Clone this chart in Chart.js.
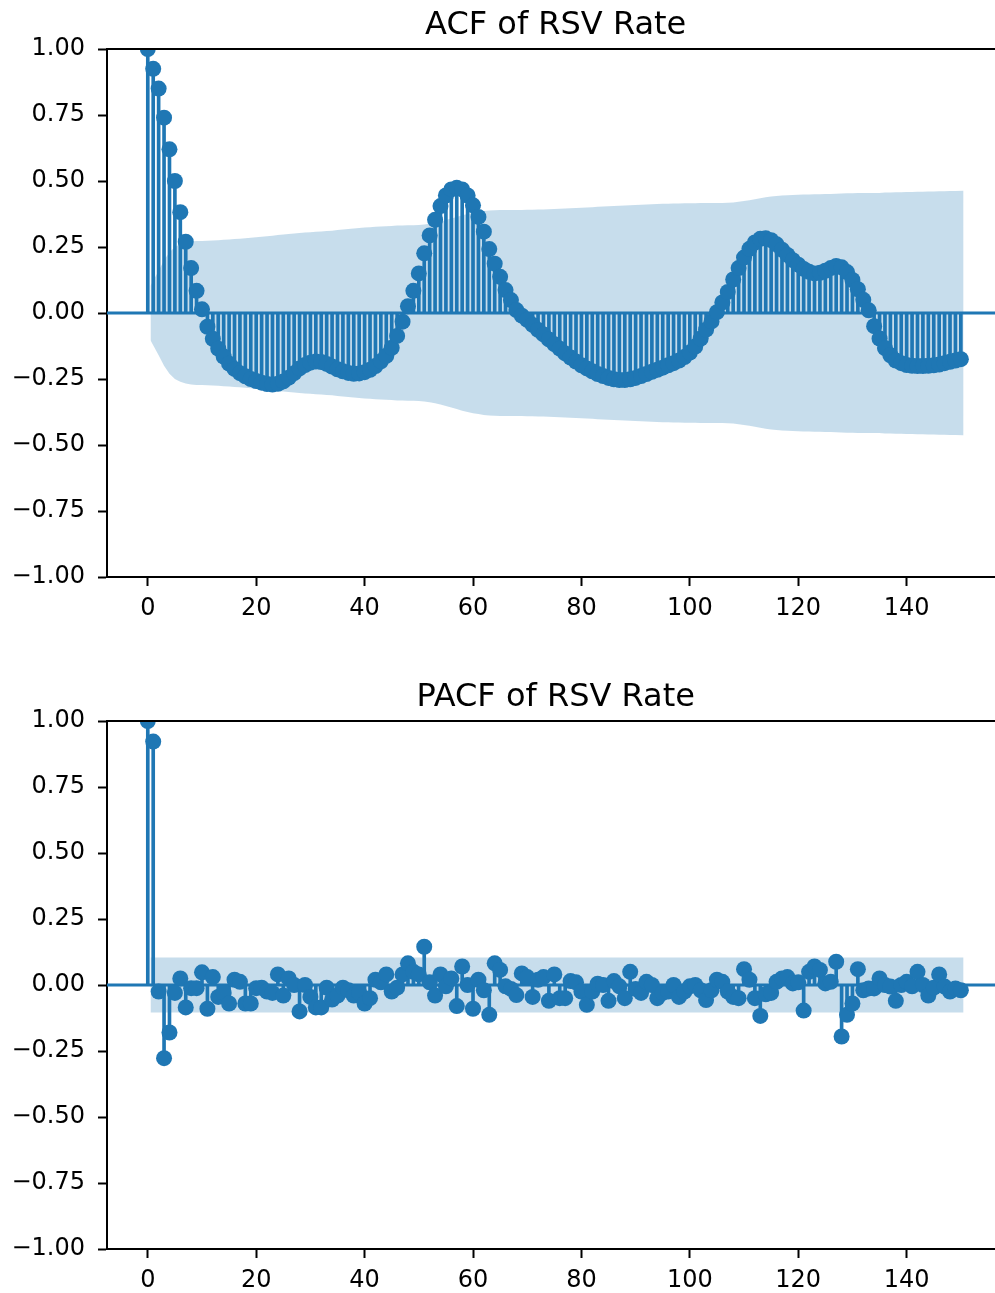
<!doctype html>
<html lang="en">

<head>
  <meta charset="utf-8">
  <title>ACF / PACF of RSV Rate</title>
  <style>
    * {
      margin: 0;
      padding: 0;
    }

    body {
      background: #fff;
      width: 995px;
    }

    canvas {
      display: block;
    }
  </style>
</head>

<body>
  <canvas id="acfChart" width="995" height="672"></canvas>
  <canvas id="pacfChart" width="995" height="621"></canvas>
  <script src="https://cdn.jsdelivr.net/npm/chart.js/dist/chart.umd.min.js"></script>
  <script>

    // autocorrelation, lags 0..150
    const acfValues = [
      1.000, 0.925, 0.850, 0.740, 0.620, 0.500, 0.382, 0.270, 0.170, 0.084,
      0.014, -0.052, -0.098, -0.135, -0.165, -0.192, -0.212, -0.228, -0.240, -0.250,
      -0.258, -0.264, -0.269, -0.271, -0.268, -0.259, -0.245, -0.228, -0.210, -0.197,
      -0.188, -0.184, -0.186, -0.193, -0.203, -0.213, -0.221, -0.227, -0.230, -0.229,
      -0.224, -0.215, -0.201, -0.183, -0.162, -0.132, -0.087, -0.033, 0.026, 0.084,
      0.150, 0.226, 0.294, 0.353, 0.405, 0.445, 0.468, 0.474, 0.468, 0.445,
      0.408, 0.364, 0.308, 0.242, 0.187, 0.137, 0.087, 0.049, 0.011, -0.010,
      -0.026, -0.045, -0.064, -0.081, -0.100, -0.118, -0.135, -0.153, -0.169, -0.184,
      -0.198, -0.210, -0.221, -0.231, -0.239, -0.246, -0.251, -0.254, -0.254, -0.251,
      -0.246, -0.239, -0.231, -0.223, -0.215, -0.207, -0.198, -0.190, -0.180, -0.167,
      -0.150, -0.127, -0.097, -0.063, -0.032, 0.003, 0.040, 0.080, 0.127, 0.170,
      0.210, 0.243, 0.267, 0.281, 0.283, 0.276, 0.260, 0.240, 0.220, 0.200,
      0.183, 0.167, 0.156, 0.150, 0.152, 0.160, 0.170, 0.178, 0.173, 0.155,
      0.125, 0.090, 0.050, 0.010, -0.050, -0.097, -0.133, -0.160, -0.180, -0.190,
      -0.197, -0.200, -0.201, -0.201, -0.200, -0.198, -0.195, -0.190, -0.185, -0.180,
      -0.175
    ];

    // half width of the ACF confidence band, lags 1..150
    const acfBand = [
      0.103, 0.160, 0.200, 0.230, 0.250, 0.260, 0.267, 0.271, 0.273, 0.273,
      0.274, 0.275, 0.276, 0.277, 0.278, 0.280, 0.281, 0.283, 0.285, 0.287,
      0.289, 0.291, 0.293, 0.295, 0.297, 0.299, 0.301, 0.303, 0.305, 0.306,
      0.308, 0.309, 0.311, 0.312, 0.314, 0.316, 0.318, 0.320, 0.322, 0.324,
      0.325, 0.327, 0.328, 0.329, 0.330, 0.331, 0.331, 0.332, 0.332, 0.333,
      0.335, 0.338, 0.342, 0.347, 0.352, 0.358, 0.364, 0.370, 0.375, 0.380,
      0.383, 0.386, 0.388, 0.389, 0.390, 0.390, 0.390, 0.390, 0.390, 0.391,
      0.391, 0.392, 0.392, 0.393, 0.394, 0.395, 0.396, 0.397, 0.398, 0.399,
      0.400, 0.401, 0.402, 0.403, 0.404, 0.405, 0.406, 0.407, 0.408, 0.409,
      0.410, 0.411, 0.412, 0.413, 0.414, 0.414, 0.415, 0.415, 0.416, 0.416,
      0.416, 0.417, 0.417, 0.417, 0.417, 0.417, 0.418, 0.419, 0.421, 0.424,
      0.427, 0.431, 0.435, 0.438, 0.441, 0.443, 0.445, 0.446, 0.447, 0.448,
      0.449, 0.449, 0.450, 0.450, 0.451, 0.451, 0.452, 0.453, 0.454, 0.454,
      0.455, 0.455, 0.455, 0.455, 0.455, 0.456, 0.456, 0.457, 0.457, 0.458,
      0.458, 0.459, 0.459, 0.460, 0.460, 0.461, 0.461, 0.462, 0.462, 0.463
    ];

    // partial autocorrelation, lags 0..150
    const pacfValues = [
      1.000, 0.922, -0.025, -0.277, -0.180, -0.030, 0.025, -0.085, -0.012, -0.012,
      0.048, -0.090, 0.030, -0.045, -0.030, -0.070, 0.020, 0.012, -0.070, -0.070,
      -0.012, -0.010, -0.025, -0.030, 0.040, -0.040, 0.025, 0.000, -0.100, 0.000,
      -0.045, -0.085, -0.085, -0.010, -0.055, -0.040, -0.010, -0.020, -0.040, -0.030,
      -0.070, -0.050, 0.020, 0.010, 0.040, -0.025, -0.010, 0.040, 0.082, 0.050,
      0.040, 0.145, 0.010, -0.040, 0.040, -0.005, 0.025, -0.080, 0.070, 0.000,
      -0.090, 0.020, -0.020, -0.113, 0.082, 0.057, -0.005, -0.015, -0.038, 0.044,
      0.030, -0.045, 0.020, 0.030, -0.060, 0.040, -0.050, -0.050, 0.015, 0.010,
      -0.025, -0.075, -0.025, 0.005, 0.000, -0.060, 0.015, -0.005, -0.050, 0.050,
      -0.015, -0.030, 0.012, 0.000, -0.050, -0.030, -0.025, 0.000, -0.045, -0.025,
      -0.005, 0.000, -0.020, -0.057, -0.020, 0.020, 0.012, -0.025, -0.045, -0.050,
      0.060, 0.020, -0.050, -0.117, -0.035, -0.030, 0.012, 0.025, 0.030, 0.006,
      0.010, -0.097, 0.050, 0.070, 0.057, 0.006, 0.012, 0.088, -0.195, -0.113,
      -0.070, 0.060, -0.020, -0.013, -0.013, 0.025, 0.000, -0.006, -0.060, 0.000,
      0.012, -0.005, 0.050, 0.000, -0.040, -0.010, 0.040, -0.006, -0.025, -0.013,
      -0.020
    ];

    // PACF band is the same width at every lag
    const pacfBandWidth = 0.104;

    const xTicks = [0, 20, 40, 60, 80, 100, 120, 140];
    const yTicks = [-1, -0.75, -0.5, -0.25, 0, 0.25, 0.5, 0.75, 1];

    const blue = '#1f77b4';
    const xMin = -7.525;
    const xMax = 156.3;

    Chart.defaults.font.family = '"DejaVu Sans"';
    Chart.defaults.font.size = 24;
    Chart.defaults.color = '#000';

    const fmt = v => (v < 0 ? '\u2212' : '') + Math.abs(v).toFixed(2);

    // title centred over the full matplotlib axis, plus the top spine
    const axTitle = {
      id: 'axTitle',
      afterDraw(chart, args, opts) {
        const { ctx, chartArea, scales: { x } } = chart;
        ctx.save();
        ctx.font = '32px "DejaVu Sans"';
        ctx.fillStyle = '#000';
        ctx.textAlign = 'center';
        ctx.textBaseline = 'alphabetic';
        ctx.fillText(opts.text, x.getPixelForValue(75.25), chartArea.top - 15.5);

        ctx.strokeStyle = '#000';
        ctx.lineWidth = 2;
        ctx.beginPath();
        ctx.moveTo(chartArea.left, chartArea.top);
        ctx.lineTo(chartArea.right, chartArea.top);
        ctx.stroke();
        ctx.restore();
      }
    };

    function makeChart(id, title, values, band, axisHeight) {
      const points = values.map((v, i) => ({ x: i, y: v }));
      // band runs over lags 1..150, stretched half a lag at both ends
      const bandX = i => (i === 0 ? 0.5 : (i === band.length - 1 ? band.length + 0.5 : i + 1));
      const upper = band.map((w, i) => ({ x: bandX(i), y: w }));
      const lower = band.map((w, i) => ({ x: bandX(i), y: -w }));

      const axisCommon = {
        type: 'linear',
        grid: { offset: false, drawOnChartArea: false, drawTicks: true, tickLength: 9, tickWidth: 2, tickColor: '#000' },
        border: { display: true, color: '#000', width: 2 }
      };

      return new Chart(document.getElementById(id), {
        type: 'scatter',
        data: {
          datasets: [
            {
              type: 'line', data: upper, fill: '+1', backgroundColor: 'rgba(31, 119, 180, 0.25)',
              borderWidth: 0, pointRadius: 0, tension: 0, order: 10
            },
            {
              type: 'line', data: lower, fill: false, borderWidth: 0, pointRadius: 0, tension: 0, order: 10
            },
            {
              type: 'bar', data: points, backgroundColor: blue, barThickness: 3, borderWidth: 0, order: 5
            },
            {
              type: 'line', data: [{ x: xMin, y: 0 }, { x: xMax, y: 0 }], borderColor: blue, borderWidth: 3,
              pointRadius: 0, fill: false, order: 3
            },
            {
              type: 'scatter', data: points, pointRadius: 8, pointBorderWidth: 0, pointBackgroundColor: blue,
              backgroundColor: blue, order: 1
            }
          ]
        },
        options: {
          responsive: false,
          animation: false,
          events: [],
          devicePixelRatio: 1,
          layout: { autoPadding: false, padding: { top: 49, left: 0, right: 0, bottom: 0 } },
          plugins: {
            legend: { display: false },
            tooltip: { enabled: false },
            axTitle: { text: title }
          },
          scales: {
            x: {
              ...axisCommon,
              min: xMin,
              max: xMax,
              offset: false,
              afterBuildTicks: s => { s.ticks = xTicks.map(v => ({ value: v })); },
              afterFit: s => { s.height = axisHeight; },
              ticks: { padding: 8, maxRotation: 0, autoSkip: false, callback: v => String(v) }
            },
            y: {
              ...axisCommon,
              min: -1,
              max: 1,
              afterBuildTicks: s => { s.ticks = yTicks.map(v => ({ value: v })); },
              afterFit: s => { s.width = 107; },
              ticks: { padding: 13, callback: v => fmt(v) }
            }
          }
        },
        plugins: [axTitle]
      });
    }

    makeChart('acfChart', 'ACF of RSV Rate', acfValues, acfBand, 95);
    makeChart('pacfChart', 'PACF of RSV Rate', pacfValues, pacfValues.slice(1).map(() => pacfBandWidth), 44);
  </script>
</body>

</html>
